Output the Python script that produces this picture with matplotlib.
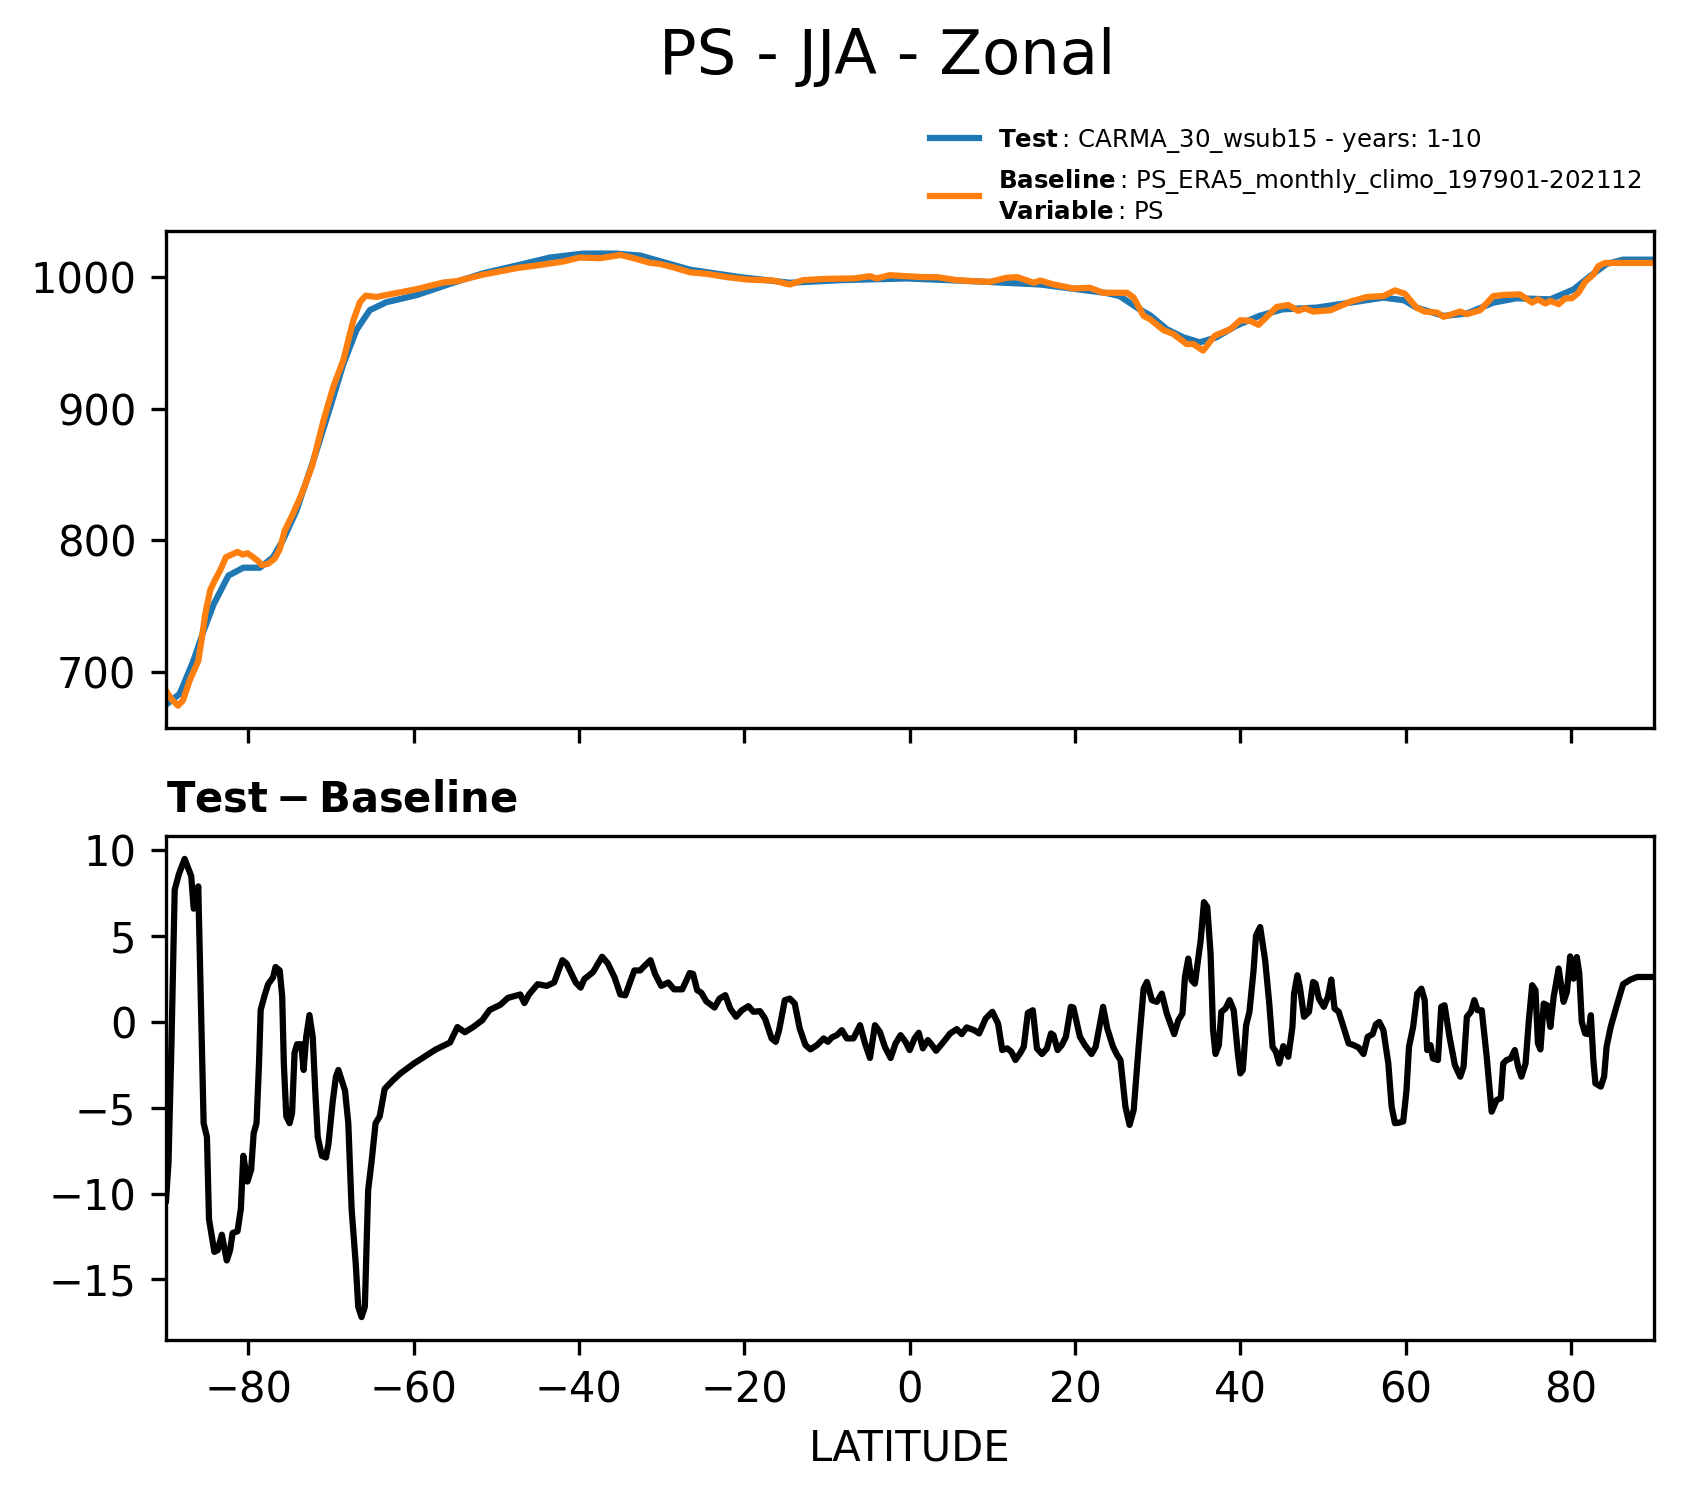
import matplotlib

matplotlib.use("Agg")
import matplotlib.pyplot as plt
import numpy as np

# zonal mean surface pressure (hPa), test run
test_lat = [
    -89.9, -88.3, -86.65, -85.4, -84.2, -82.4, -80.6, -78.6, -77.0, -75.8,
    -74.2, -72.1, -70.1, -68.5, -66.9, -65.3, -63.3, -59.6, -55.6, -51.6,
    -47.5, -43.5, -39.5, -35.5, -32.6, -26.6, -20.5, -14.5, -8.4, -0.35,
    7.7, 15.8, 23.8, 25.4, 27.8, 29.1, 31.1, 33.1, 35.1, 37.1,
    39.5, 42.3, 45.1, 49.2, 53.3, 57.3, 59.8, 61.3, 64.6, 67.4,
    70.6, 73.4, 77.5, 80.3, 82.3, 84.3, 86.3, 89.9,
]
test_ps = [
    675, 683, 708, 731, 751, 773, 779, 779, 787, 800,
    822, 861, 901, 934, 960, 975, 981, 986.5, 995, 1003,
    1009, 1015, 1018, 1018, 1016.5, 1005.8, 1000.1, 995.8, 997.8, 999.1,
    997.0, 994.5, 988.0, 985.7, 975.6, 971.0, 960.5, 954.3, 950.5, 954.3,
    963.1, 970.6, 975.6, 976.9, 980.7, 984.5, 982.5, 976.9, 970.6, 972.4,
    980.7, 984.0, 983.2, 990.7, 1000.8, 1010.1, 1013.4, 1013.4,
]

# zonal mean surface pressure (hPa), ERA5 baseline
base_lat = [
    -89.8, -89.3, -88.5, -87.9, -87.1, -86.05, -85.6, -85.2, -84.6, -84.0,
    -83.4, -82.7, -82.0, -81.3, -80.7, -80.1, -79.4, -78.8, -78.4, -77.6,
    -76.8, -76.2, -75.6, -74.6, -73.55, -72.3, -70.9, -69.7, -68.5, -67.3,
    -66.5, -65.8, -64.5, -62.9, -59.6, -56.4, -54.8, -51.6, -47.5, -45.1,
    -41.9, -39.9, -37.4, -35.0, -33.4, -31.4, -30.2, -28.6, -26.6, -24.5,
    -22.1, -19.7, -16.5, -14.5, -12.9, -10.0, -6.8, -4.8, -4.0, -2.4,
    -0.35, 1.7, 3.3, 5.7, 7.7, 9.7, 11.7, 13.0, 15.0, 15.8,
    17.4, 19.8, 21.8, 23.4, 26.3, 27.1, 28.3, 29.1, 30.7, 31.9,
    33.5, 34.3, 35.5, 36.9, 38.8, 40.0, 41.2, 42.2, 44.4, 45.8,
    47.0, 47.8, 48.8, 50.9, 53.3, 55.3, 57.3, 58.7, 59.9, 61.3,
    62.3, 63.8, 64.6, 66.6, 67.4, 69.0, 70.6, 71.8, 73.8, 75.3,
    76.0, 76.9, 77.5, 78.5, 79.3, 80.1, 80.9, 81.7, 82.7, 83.3,
    84.1, 85.5, 89.9,
]
base_ps = [
    684, 679, 674, 678, 693, 708, 726, 744, 762, 770,
    777, 787, 789, 791, 789, 790, 787, 784, 781, 782,
    786, 793, 807, 820, 835, 856, 891, 917, 937, 967,
    981, 986, 985, 987, 991, 996, 997, 1002, 1007, 1009,
    1012, 1015, 1014.5, 1017, 1014.5, 1011, 1010.1, 1007.6, 1003.8, 1002.6,
    1000.1, 998.3, 997.5, 994.5, 997.8, 998.8, 999.1, 1000.8, 999.1, 1001.6,
    1000.8, 1000.1, 1000.1, 997.8, 997.0, 996.5, 999.6, 1000.1, 995.8, 997.5,
    994.5, 991.5, 992.0, 988.2, 988.2, 984.5, 970.6, 968.0, 959.8, 956.8,
    949.2, 949.2, 944.2, 955.5, 960.5, 967.3, 966.8, 963.8, 977.4, 978.9,
    974.4, 976.4, 973.9, 974.9, 981.4, 985.0, 985.7, 990.0, 987.5, 976.9,
    973.9, 973.1, 969.9, 973.9, 971.9, 974.9, 985.7, 986.5, 987.0, 980.7,
    983.2, 980.0, 982.0, 979.5, 984.0, 984.0, 988.2, 996.5, 1002.1, 1008.4,
    1010.9, 1010.9, 1010.9,
]

# test minus baseline (hPa)
diff_lat = [
    -89.95, -89.65, -89.3, -88.9, -88.4, -87.7, -86.9, -86.6, -86.05, -85.4,
    -85.0, -84.75, -84.1, -83.7, -83.2, -82.6, -82.2, -81.9, -81.3, -80.9,
    -80.6, -80.1, -79.65, -79.35, -79.0, -78.7, -78.5, -78.05, -77.6, -77.0,
    -76.7, -76.2, -75.9, -75.7, -75.4, -75.0, -74.7, -74.4, -74.1, -73.6,
    -73.3, -73.0, -72.6, -72.2, -71.9, -71.6, -71.1, -70.6, -70.3, -69.8,
    -69.4, -69.1, -68.3, -67.9, -67.5, -67.0, -66.7, -66.3, -65.9, -65.5,
    -65.1, -64.6, -64.1, -63.5, -62.5, -61.6, -59.9, -57.3, -55.6, -54.7,
    -53.8, -52.8, -51.7, -50.8, -49.5, -48.6, -47.1, -46.6, -46.05, -45.0,
    -43.9, -43.0, -42.0, -41.5, -40.4, -39.8, -39.35, -38.3, -37.2, -36.5,
    -35.7, -35.0, -34.4, -33.3, -32.6, -32.0, -31.35, -30.8, -30.05, -29.2,
    -28.5, -27.5, -26.6, -26.2, -25.7, -25.2, -24.6, -23.6, -23.0, -22.3,
    -21.7, -21.0, -20.3, -19.5, -18.9, -18.1, -17.5, -16.7, -16.2, -15.8,
    -15.1, -14.5, -13.9, -13.3, -12.6, -12.0, -11.2, -10.4, -9.9, -9.4,
    -8.8, -8.2, -7.6, -6.8, -6.0, -5.4, -4.8, -4.2, -3.6, -3.0,
    -2.3, -1.7, -1.1, -0.5, 0.0, 0.6, 1.1, 1.6, 2.2, 2.7,
    3.2, 4.1, 4.9, 5.7, 6.3, 6.9, 7.8, 8.4, 9.2, 10.0,
    10.7, 11.2, 11.8, 12.3, 12.8, 13.4, 13.8, 14.3, 14.9, 15.4,
    16.0, 16.6, 17.1, 17.4, 17.9, 18.4, 18.9, 19.5, 19.8, 20.6,
    21.2, 22.0, 22.5, 23.4, 23.9, 24.6, 25.1, 25.5, 26.1, 26.6,
    27.1, 27.7, 28.3, 28.7, 29.3, 29.9, 30.5, 31.1, 32.0, 32.5,
    33.0, 33.3, 33.7, 34.1, 34.5, 35.2, 35.6, 36.0, 36.4, 36.7,
    37.0, 37.4, 37.7, 38.2, 38.7, 39.2, 39.7, 40.0, 40.3, 40.7,
    41.1, 41.6, 41.9, 42.4, 43.0, 43.5, 43.9, 44.3, 44.7, 45.2,
    45.8, 46.3, 46.5, 46.9, 47.2, 47.7, 48.3, 48.8, 49.1, 49.5,
    50.1, 50.6, 51.0, 51.4, 51.9, 52.6, 53.1, 53.7, 54.3, 54.9,
    55.4, 56.0, 56.4, 56.8, 57.3, 57.9, 58.3, 58.7, 59.2, 59.7,
    60.1, 60.4, 60.9, 61.4, 61.9, 62.3, 62.6, 63.0, 63.3, 63.9,
    64.3, 64.7, 65.3, 65.95, 66.6, 67.0, 67.4, 67.9, 68.3, 68.7,
    69.2, 69.8, 70.4, 71.0, 71.5, 71.8, 72.2, 72.7, 73.2, 73.6,
    74.0, 74.5, 74.9, 75.3, 75.7, 76.0, 76.3, 76.7, 77.1, 77.5,
    77.9, 78.5, 79.1, 79.5, 79.9, 80.3, 80.7, 81.0, 81.3, 81.7,
    82.1, 82.4, 82.7, 82.95, 83.6, 84.0, 84.3, 84.8, 85.6, 86.3,
    87.2, 88.0, 89.9,
]
diff_ps = [
    -10.4, -8.2, -1.45, 7.7, 8.6, 9.5, 8.5, 6.6, 7.9, -5.9,
    -6.7, -11.5, -13.4, -13.3, -12.4, -13.9, -13.3, -12.3, -12.2, -10.9,
    -7.8, -9.3, -8.6, -6.5, -5.9, -2.4, 0.7, 1.5, 2.2, 2.6,
    3.2, 3.0, 1.5, -2.4, -5.5, -5.9, -5.3, -1.8, -1.3, -1.3,
    -2.8, -0.9, 0.4, -0.9, -4.0, -6.7, -7.8, -7.9, -7.1, -4.7,
    -3.2, -2.8, -4.0, -5.9, -10.9, -14.1, -16.6, -17.2, -16.6, -9.8,
    -8.2, -5.9, -5.5, -3.9, -3.4, -3.0, -2.4, -1.6, -1.2, -0.3,
    -0.6, -0.3, 0.1, 0.7, 1.0, 1.4, 1.6, 1.1, 1.6, 2.2,
    2.1, 2.3, 3.6, 3.4, 2.3, 2.0, 2.5, 2.9, 3.8, 3.4,
    2.6, 1.6, 1.55, 3.0, 3.0, 3.3, 3.6, 2.8, 2.1, 2.3,
    1.9, 1.9, 2.85, 2.8, 1.85, 1.7, 1.2, 0.84, 1.36, 1.56,
    0.78, 0.3, 0.68, 0.92, 0.59, 0.63, 0.2, -0.96, -1.16, -0.5,
    1.27, 1.36, 1.07, -0.38, -1.35, -1.6, -1.35, -0.96, -1.16, -0.9,
    -0.77, -0.48, -0.96, -0.96, -0.19, -1.25, -2.1, -0.19, -0.58, -1.45,
    -2.1, -1.25, -0.77, -1.16, -1.64, -0.96, -0.63, -1.54, -1.06, -1.35,
    -1.68, -1.16, -0.67, -0.42, -0.71, -0.32, -0.48, -0.67, 0.2, 0.59,
    -0.1, -1.64, -1.54, -1.74, -2.22, -1.8, -1.45, 0.53, 0.68, -1.55,
    -1.87, -1.55, -0.67, -0.77, -1.64, -1.35, -0.87, 0.88, 0.84, -0.87,
    -1.35, -1.87, -1.45, 0.88, -0.38, -1.45, -1.93, -2.22, -4.94, -6.0,
    -5.13, -1.45, 1.94, 2.33, 1.27, 1.17, 1.65, 0.49, -0.71, 0.1,
    0.49, 2.62, 3.69, 2.43, 2.23, 4.75, 6.98, 6.69, 3.98, -0.48,
    -1.87, -1.35, 0.59, 0.78, 1.27, 0.68, -1.84, -3.0, -2.8, -0.19,
    0.59, 3.01, 5.04, 5.53, 3.59, 1.07, -1.45, -1.74, -2.42, -1.41,
    -2.03, -0.29, 1.65, 2.72, 2.04, 0.3, 0.59, 2.33, 2.23, 1.36,
    0.88, 1.46, 2.47, 0.78, 0.59, -0.48, -1.25, -1.35, -1.49, -1.87,
    -0.87, -0.71, -0.14, 0.0, -0.48, -2.42, -4.94, -5.9, -5.87, -5.8,
    -3.97, -1.45, -0.29, 1.65, 1.94, 1.27, -1.64, -1.35, -2.13, -2.22,
    0.88, 0.97, -0.87, -2.51, -3.19, -2.61, 0.3, 0.59, 1.27, 0.68,
    0.68, -2.03, -5.23, -4.55, -4.45, -2.42, -2.22, -2.13, -1.64, -2.61,
    -3.19, -2.42, 0.1, 2.14, 1.85, -1.25, -1.6, 1.07, 0.97, -0.29,
    1.46, 3.11, 1.17, 1.75, 3.82, 2.52, 3.78, 2.82, 0.0, -0.67,
    -0.71, 0.39, -2.22, -3.58, -3.77, -3.19, -1.45, -0.29, 1.07, 2.2,
    2.47, 2.62, 2.62,
]

lat_ticks = [-80, -60, -40, -20, 0, 20, 40, 60, 80]

test_label = r"$\bf{Test}\,$: CARMA_30_wsub15 - years: 1-10"
base_label = (
    r"$\bf{Baseline}\,$: PS_ERA5_monthly_climo_197901-202112" + "\n"
    + r"$\bf{Variable}\,$: PS"
)

W, H = 1683, 1496
fig = plt.figure(figsize=(W / 300, H / 300), dpi=300)

ax1 = fig.add_axes([165.6 / W, 1 - 728.3 / H, 1488.1 / W, 497.3 / H])
ax2 = fig.add_axes([165.6 / W, 1 - 1340 / H, 1488.1 / W, 504 / H])

# top panel: test vs baseline
ax1.plot(test_lat, test_ps, color="tab:blue", lw=1.5, label=test_label)
ax1.plot(base_lat, base_ps, color="tab:orange", lw=1.5, label=base_label)
ax1.set_xlim(-90, 90)
ax1.set_xticks(lat_ticks)
ax1.set_xticklabels([])
ax1.set_yticks([700, 800, 900, 1000])
ax1.tick_params(labelsize=10)
ax1.legend(
    loc="lower right",
    bbox_to_anchor=(1.007, 0.97),
    frameon=False,
    fontsize=5.9,
)

# bottom panel: difference
ax2.plot(diff_lat, diff_ps, color="black", lw=1.5)
ax2.set_xlim(-90, 90)
ax2.set_xticks(lat_ticks)
ax2.set_yticks([-15, -10, -5, 0, 5, 10])
ax2.tick_params(labelsize=10)
ax2.set_title(r"$\mathbf{Test - Baseline}$", loc="left", fontsize=10)
ax2.set_xlabel("LATITUDE", fontsize=10)

fig.text(887 / W, 1 - 74 / H, "PS - JJA - Zonal", ha="center",
         va="baseline", fontsize=15)

fig.savefig("out.png", dpi=300)
